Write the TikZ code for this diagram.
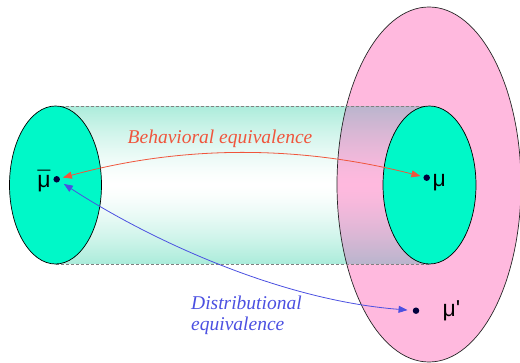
\documentclass[tikz,border=0pt]{standalone}
\usepackage{fontspec}
\setmainfont{Liberation Serif}
\newfontfamily\mufont{Liberation Sans}
\usetikzlibrary{arrows.meta}
\definecolor{tealfill}{RGB}{0,248,200}
\definecolor{pinkfill}{RGB}{255,185,222}
\definecolor{cyledge}{RGB}{172,236,219}
\definecolor{mauve}{RGB}{186,181,205}
\definecolor{redline}{RGB}{240,85,60}
\definecolor{blueline}{RGB}{75,80,225}
\definecolor{dotcol}{RGB}{0,0,60}
\tikzset{
  pt/.style={circle, fill=dotcol, inner sep=0pt, minimum size=6.5pt},
  mulabel/.style={font=\mufont\fontsize{23}{26}\selectfont, inner sep=0pt, text=black},
  lbl/.style={font=\itshape\fontsize{19.5}{21}\selectfont, inner sep=0pt},
  twohead/.style={arrows={Triangle[length=9pt,width=7pt]-Triangle[length=9pt,width=7pt]}},
  endcap/.style={fill=tealfill, draw=black, line width=0.7pt},
  rim/.style={draw=black!85, line width=0.7pt}
}
\begin{document}
\begin{tikzpicture}[x=1pt,y=-1pt]
\useasboundingbox (0,0) rectangle (520,363);
% big pink ellipse
\fill[pinkfill] (429,184.5) ellipse [x radius=92, y radius=177.5];
% cylinder body outside the pink ellipse (vertical gradient in strips)
\foreach \i in {0,...,157} {
  \pgfmathsetmacro\p{100*(abs(\i-78.5)/78.5)^1.4}
  \fill[cyledge!\p!white] (55.5,106+\i) rectangle (429.5,107.4+\i);
}
% cylinder body over the pink ellipse
\begin{scope}
  \clip (429,184.5) ellipse [x radius=92, y radius=177.5];
  \foreach \i in {0,...,157} {
    \pgfmathsetmacro\p{100*(abs(\i-78.5)/78.5)^1.4}
    \fill[mauve!\p!pinkfill] (55.5,106+\i) rectangle (429.5,107.4+\i);
  }
\end{scope}
\draw[rim] (429,184.5) ellipse [x radius=92, y radius=177.5];
\draw[gray, densely dashed, line width=0.6pt] (55.5,106) -- (429.5,106) (55.5,264) -- (429.5,264);
% end caps
\draw[endcap] (55.5,185) ellipse [x radius=46, y radius=79];
\draw[endcap] (429.5,185) ellipse [x radius=46.5, y radius=79];
% points
\node[pt] (mubar) at (56.7,179.3) {};
\node[pt] (mu) at (426.7,177.7) {};
\node[pt] (mup) at (416,310.7) {};
% labels
\node[mulabel, anchor=base] (lmubar) at (44,187.5) {\ooalign{μ\cr\hidewidth¯\hidewidth}};
\node[mulabel, anchor=base west] (lmu) at (432.5,186.5) {μ};
\node[mulabel, anchor=base west] (lmup) at (442.5,316.5) {μ\textquotesingle};
% arrows
\draw[redline, line width=0.8pt, twohead, shorten <=3pt, shorten >=3pt]
  (mubar) .. controls (182,145) and (299,145) .. (mu);
\draw[blueline, line width=0.8pt, twohead, shorten <=5pt, shorten >=5pt]
  (mubar) .. controls (150,240) and (280,300) .. (mup);
\node[lbl, text=redline, anchor=base] (beh) at (220,144) {Behavioral equivalence};
\node[lbl, text=blueline, anchor=north west, align=left] (dist) at (191,296) {Distributional\\equivalence};
\end{tikzpicture}
\end{document}
